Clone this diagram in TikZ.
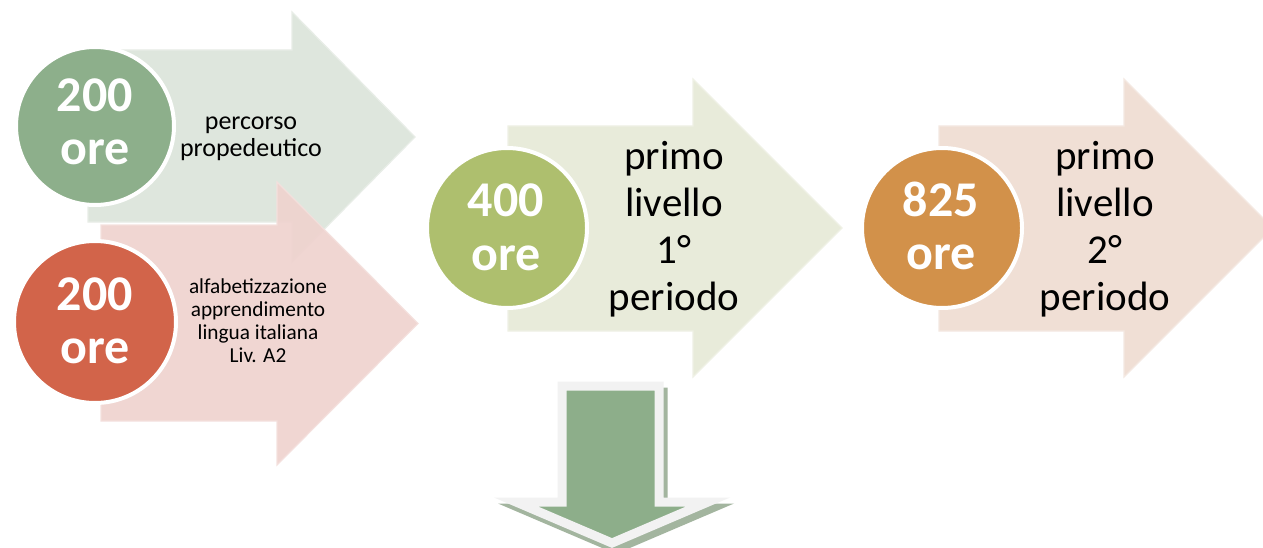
\documentclass[tikz,border=0pt]{standalone}
\usepackage{fontspec}
\setmainfont{Carlito}
\definecolor{arrG}{HTML}{DEE6DD}
\definecolor{arrP}{HTML}{EFD3CF}
\definecolor{arrO}{HTML}{E8EBDA}
\definecolor{arrR}{HTML}{F0DFD5}
\definecolor{circG}{HTML}{8DAF8B}
\definecolor{circR}{HTML}{D2644A}
\definecolor{circO}{HTML}{AEBF6E}
\definecolor{circY}{HTML}{D2914A}
\definecolor{downG}{HTML}{8DAE8A}
\definecolor{downEdge}{HTML}{F2F2F2}
\definecolor{downShadow}{HTML}{A3B59F}
\newcommand{\mylines}[1]{\begin{tabular}[t]{@{}c@{}}#1\end{tabular}}
\begin{document}
\begin{tikzpicture}[x=1pt,y=-1pt,
  bigarrow/.style={line width=1.2pt, line join=miter},
  disc/.style={circle, draw=white, line width=4pt, inner sep=0pt, minimum size=#1},
  numtxt/.style={anchor=base, inner sep=0pt, text=white, font=\bfseries\fontsize{50}{53}\selectfont},
  bigtxt/.style={anchor=base, inner sep=0pt, text=black, font=\fontsize{41}{47}\selectfont},
  midtxt/.style={anchor=base, inner sep=0pt, text=black, font=\fontsize{26}{27}\selectfont},
  smalltxt/.style={anchor=base, inner sep=0pt, text=black, font=\fontsize{21.3}{23.3}\selectfont}]
\useasboundingbox (0,0) rectangle (1263,548);
\clip (0,0) rectangle (1263,548);
\fill[white] (0,0) rectangle (1263,548);

% top-left green arrow
\draw[bigarrow, fill=arrG, draw=arrG!70!white]
  (88,50) -- (292,50) -- (292,12) -- (415,137) -- (292,262) -- (292,222) -- (88,222) -- cycle;
\node[disc=158pt, fill=circG] (c1) at (95,126) {};
\node[numtxt] (n1) at (95,112) {\mylines{200\\ore}};
\node[midtxt] (t1) at (251,130) {\mylines{percorso\\propedeutico}};

% bottom-left pink arrow
\draw[bigarrow, fill=arrP, draw=arrP!70!white, fill opacity=0.93, draw opacity=0.93]
  (101,225) -- (277,225) -- (277,182) -- (418,323.5) -- (277,465) -- (277,421) -- (101,421) -- cycle;
\node[disc=162pt, fill=circR] (c2) at (95,322) {};
\node[numtxt] (n2) at (95,310) {\mylines{200\\ore}};
\node[smalltxt] (t2) at (258,293) {\mylines{alfabetizzazione\\apprendimento\\lingua italiana\\Liv. A2}};

% middle olive arrow
\draw[bigarrow, fill=arrO, draw=arrO!70!white]
  (508,126) -- (693,126) -- (693,79) -- (842,228) -- (693,377) -- (693,331) -- (508,331) -- cycle;
\node[disc=160pt, fill=circO] (c3) at (507,228) {};
\node[numtxt] (n3) at (506,217) {\mylines{400\\ore}};
\node[bigtxt] (t3) at (674,170) {\mylines{primo\\livello\\1°\\periodo}};

% right orange arrow
\draw[bigarrow, fill=arrR, draw=arrR!70!white]
  (939,126) -- (1124,126) -- (1124,79) -- (1273,228) -- (1124,377) -- (1124,331) -- (939,331) -- cycle;
\node[disc=160pt, fill=circY] (c4) at (942,228) {};
\node[numtxt] (n4) at (941,216) {\mylines{825\\ore}};
\node[bigtxt] (t4) at (1105,170) {\mylines{primo\\livello\\2°\\periodo}};

% down arrow with shadow
\begin{scope}[shift={(4,6)}]
\draw[fill=downShadow, draw=downShadow, line width=9pt, line join=miter, miter limit=10]
  (562,386) -- (659,386) -- (659,502) -- (708,502) -- (612,543) -- (516,502) -- (562,502) -- cycle;
\end{scope}
\draw[fill=downG, draw=downEdge, line width=9pt, line join=miter, miter limit=10]
  (562,386) -- (659,386) -- (659,502) -- (708,502) -- (612,543) -- (516,502) -- (562,502) -- cycle;
\end{tikzpicture}
\end{document}
